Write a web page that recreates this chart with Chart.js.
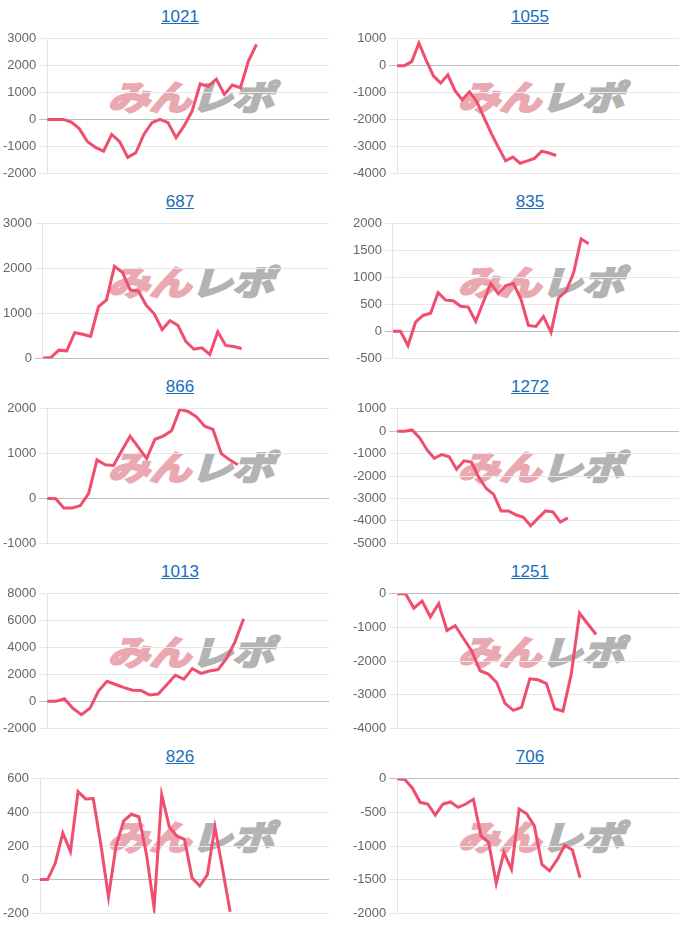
<!DOCTYPE html>
<html>
<head>
<meta charset="utf-8">
<script src="https://cdn.jsdelivr.net/npm/chart.js@4"></script>
<style>
  body { margin: 0; background: #fff; font-family: "Liberation Sans", Arial, sans-serif; }
  #grid { display: grid; grid-template-columns: 350px 350px; grid-auto-rows: 185px; width: 700px; }
  .cell { position: relative; width: 350px; height: 185px; }
  .title { height: 28px; line-height: 34px; text-align: center; width: 360px; font-size: 17px; }
  .title a { color: #1a6dbb; text-decoration: underline; }
  .box { position: absolute; left: 0px; top: 28px; width: 329px; height: 156px; z-index: 2; }
  .mark { position: absolute; left: 112px; top: 76px; z-index: 1; white-space: nowrap;
          font-family: "Noto Sans CJK JP", sans-serif; font-weight: 700; font-size: 34px; line-height: 40px;
          transform-origin: left center; transform: scaleX(1.22) skewX(-14deg); }
  .mark .a { color: #eaa9b0; -webkit-text-stroke: 2.5px #eaa9b0; }
  .mark .b { color: #b3b3b3; -webkit-text-stroke: 2.5px #b3b3b3; }
</style>
</head>
<body>
<div id="grid"></div>
<script>
const titles = ['1021', '1055', '687', '835', '866', '1272', '1013', '1251', '826', '706'];

const slots = ['1','2','3','4','5','6','7','8','9','10','11','12','13','14','15','16','17','18','19','20',
  '21','22','23','24','25','26','27','28','29','30','31','32','33','34','35','36','37','38','39','40'];

// how many x slots each small chart has
const slotCount = [36, 40, 37, 39, 35, 39, 34, 35, 39, 38];

const v1021 = [0, 0, 0, -100, -350, -830, -1040, -1180, -560, -830, -1410, -1240, -560, -120, 0, -120, -680, -240, 320, 1320, 1230, 1500, 930, 1280, 1180, 2180, 2790];
const v1055 = [0, 0, 150, 840, 210, -380, -650, -340, -930, -1270, -970, -1330, -1920, -2510, -3040, -3540, -3400, -3630, -3540, -3450, -3180, -3250, -3340];
const v687 = [0, 15, 180, 165, 570, 535, 485, 1150, 1300, 2050, 1920, 1520, 1500, 1180, 990, 640, 840, 730, 370, 200, 230, 85, 590, 285, 260, 215];
const v835 = [0, 0, -265, 170, 295, 335, 720, 580, 570, 465, 450, 185, 540, 890, 700, 850, 890, 600, 110, 90, 275, -20, 620, 750, 1090, 1720, 1630];
const v866 = [0, 0, -215, -215, -160, 110, 860, 750, 735, 1070, 1390, 1140, 890, 1320, 1390, 1510, 1990, 1940, 1820, 1610, 1540, 1000, 860, 750];
const v1272 = [0, 0, 55, -285, -825, -1210, -1040, -1140, -1700, -1320, -1380, -2060, -2560, -2820, -3560, -3560, -3730, -3840, -4220, -3880, -3560, -3600, -4060, -3870];
const v1013 = [0, 0, 190, -520, -990, -520, 760, 1490, 1250, 1020, 830, 800, 470, 540, 1230, 1940, 1650, 2430, 2080, 2250, 2360, 3190, 4440, 6150];
const v1251 = [0, 0, -425, -215, -690, -290, -1090, -950, -1330, -1710, -2290, -2390, -2640, -3260, -3470, -3380, -2530, -2560, -2670, -3420, -3490, -2390, -580, -900, -1210];
const v826 = [0, 0, 97, 277, 168, 523, 480, 482, 209, -103, 200, 350, 389, 374, 150, -168, 505, 314, 258, 239, 9, -37, 28, 314, 65, -191];
const v706 = [0, -10, -140, -350, -375, -540, -375, -345, -425, -375, -305, -850, -945, -1555, -1095, -1345, -450, -520, -700, -1275, -1370, -1205, -990, -1060, -1470];

const series = [v1021, v1055, v687, v835, v866, v1272, v1013, v1251, v826, v706];

// y axis tick range per chart
const yMin = [-2000, -4000, 0, -500, -1000, -5000, -2000, -4000, -200, -2000];
const yMax = [3000, 1000, 3000, 2000, 2000, 1000, 8000, 0, 600, 0];
const yStep = [1000, 1000, 1000, 500, 1000, 1000, 2000, 1000, 200, 500];

const grid = document.getElementById('grid');

titles.forEach(function (t, i) {
  const cell = document.createElement('div');
  cell.className = 'cell';
  cell.innerHTML = '<div class="title"><a href="#">' + t + '</a></div>' +
    '<div class="mark"><span class="a">みん</span><span class="b">レポ</span></div>' +
    '<div class="box"><canvas></canvas></div>';
  grid.appendChild(cell);

  new Chart(cell.querySelector('canvas'), {
    type: 'line',
    data: {
      labels: slots.slice(0, slotCount[i]),
      datasets: [{
        label: t,
        data: series[i],
        borderColor: 'rgb(240, 78, 110)',
        backgroundColor: 'rgb(240, 78, 110)',
        borderWidth: 3,
        pointRadius: 0,
        tension: 0,
        fill: false
      }]
    },
    options: {
      responsive: true,
      maintainAspectRatio: false,
      animation: false,
      plugins: { legend: { display: false }, tooltip: { enabled: false } },
      scales: {
        x: { display: false },
        y: {
          min: yMin[i],
          max: yMax[i],
          border: { color: '#e4e4e4' },
          grid: {
            color: function (ctx) { return ctx.tick && ctx.tick.value === 0 ? '#bdbdbd' : '#e8e8e8'; }
          },
          ticks: {
            stepSize: yStep[i],
            color: '#666',
            font: { size: 13 },
            callback: function (v) { return String(v); }
          }
        }
      }
    }
  });
});
</script>
</body>
</html>
